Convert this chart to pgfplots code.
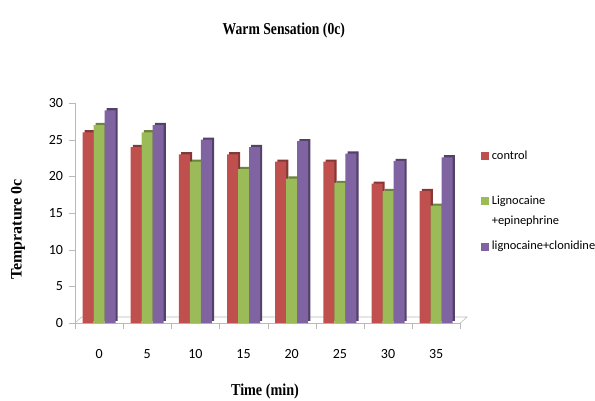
\documentclass[border=0pt]{standalone}
\usepackage{pgfplots}
\pgfplotsset{compat=1.18}
\usepackage{fontspec}
\setmainfont{Liberation Serif}
\newfontfamily\carlito{Carlito}
\definecolor{cred}{HTML}{C0504D}
\definecolor{cgreen}{HTML}{9BBB59}
\definecolor{cpurple}{HTML}{8064A2}
\pgfplotstableread{
x control lepi lclo
0 26 27 29
1 24 26 27
2 23 22 25
3 23 21 24
4 22 19.7 24.8
5 22 19.1 23.1
6 19 18 22.1
7 18 16 22.6
}\datatable
\pgfplotsset{
  sqlegend/.style={legend image code/.code={\fill[##1] (0pt,-3pt) rectangle (6pt,3pt);}},
}
\newcommand{\legtext}[1]{\raisebox{-3pt}{\smash{\begin{tabular}[t]{@{}l@{}}#1\end{tabular}}}}
\begin{document}
\begin{tikzpicture}
\path[use as bounding box] (-56.25pt,-57.75pt) rectangle (390pt,242.25pt);
\begin{axis}[
  width=289pt, height=165pt, scale only axis,
  xmin=-0.5, xmax=7.5, ymin=0, ymax=30,
  axis x line*=bottom, axis y line*=left,
  axis line style={gray!55, -},
  tick align=outside,
  major tick length=4.5pt,
  ytick={0,5,...,30},
  tick style={draw=gray!55},
  xtick={-0.5,0.5,...,7.5}, xticklabels={},
  extra x ticks={0,1,2,3,4,5,6,7},
  extra x tick labels={0,5,10,15,20,25,30,35},
  extra x tick style={major tick length=0pt, xticklabel style={yshift=-16pt}},
  ticklabel style={font=\carlito\fontsize{10.5}{12}\selectfont},
  /pgf/number format/assume math mode=true,
  yticklabel style={xshift=-1pt},
  every axis title shift=0pt,
  title={\scalebox{0.82}[1]{\bfseries\fontsize{12.5}{14}\selectfont Warm Sensation (0c)}},
  title style={at={(axis description cs:0.542,1.33)}, anchor=center, yshift=0pt},
  xlabel={\scalebox{0.85}[1]{\bfseries\fontsize{12.5}{14}\selectfont Time (min)}},
  xlabel style={at={(axis description cs:0.493,-0.31)}, anchor=center},
  ylabel={\bfseries\fontsize{12}{14}\selectfont Temprature 0c},
  ylabel style={at={(axis description cs:-0.148,0.425)}, anchor=center},
  legend style={draw=none, fill=none, at={(axis description cs:1.043,0.79)}, anchor=north west,
    font=\carlito\fontsize{9.3}{15}\selectfont, cells={anchor=west, inner xsep=1.5pt}, row sep=28pt},
  legend cell align=left,
  clip=false,
]
% 3D floor
\draw[gray!55] (rel axis cs:0,0) -- ([xshift=5pt,yshift=4.5pt]rel axis cs:0,0) -- ([xshift=5pt,yshift=4.5pt]rel axis cs:1,0) -- (rel axis cs:1,0);
% depth (3D side) of the bars
\addplot[ybar, bar width=8.25pt, bar shift=-8.25pt, fill=cred!70!black, draw=none, xshift=1.6pt, yshift=1.6pt, forget plot] table[x=x,y=control]{\datatable};
\addplot[ybar, bar width=8.25pt, bar shift=-8.25pt, fill=cred, draw=none, sqlegend] table[x=x,y=control]{\datatable};
\addlegendentry{\legtext{control}}
\addplot[ybar, bar width=8.25pt, bar shift=0pt, fill=cgreen!70!black, draw=none, xshift=1.6pt, yshift=1.6pt, forget plot] table[x=x,y=lepi]{\datatable};
\addplot[ybar, bar width=8.25pt, bar shift=0pt, fill=cgreen, draw=none, sqlegend] table[x=x,y=lepi]{\datatable};
\addlegendentry{\legtext{Lignocaine\\+epinephrine}}
\addplot[ybar, bar width=8.25pt, bar shift=8.25pt, fill=cpurple!65!black, draw=none, xshift=1.6pt, yshift=1.6pt, forget plot] table[x=x,y=lclo]{\datatable};
\addplot[ybar, bar width=8.25pt, bar shift=8.25pt, fill=cpurple, draw=none, sqlegend] table[x=x,y=lclo]{\datatable};
\addlegendentry{\legtext{lignocaine+clonidine}}
\end{axis}
\end{tikzpicture}
\end{document}
